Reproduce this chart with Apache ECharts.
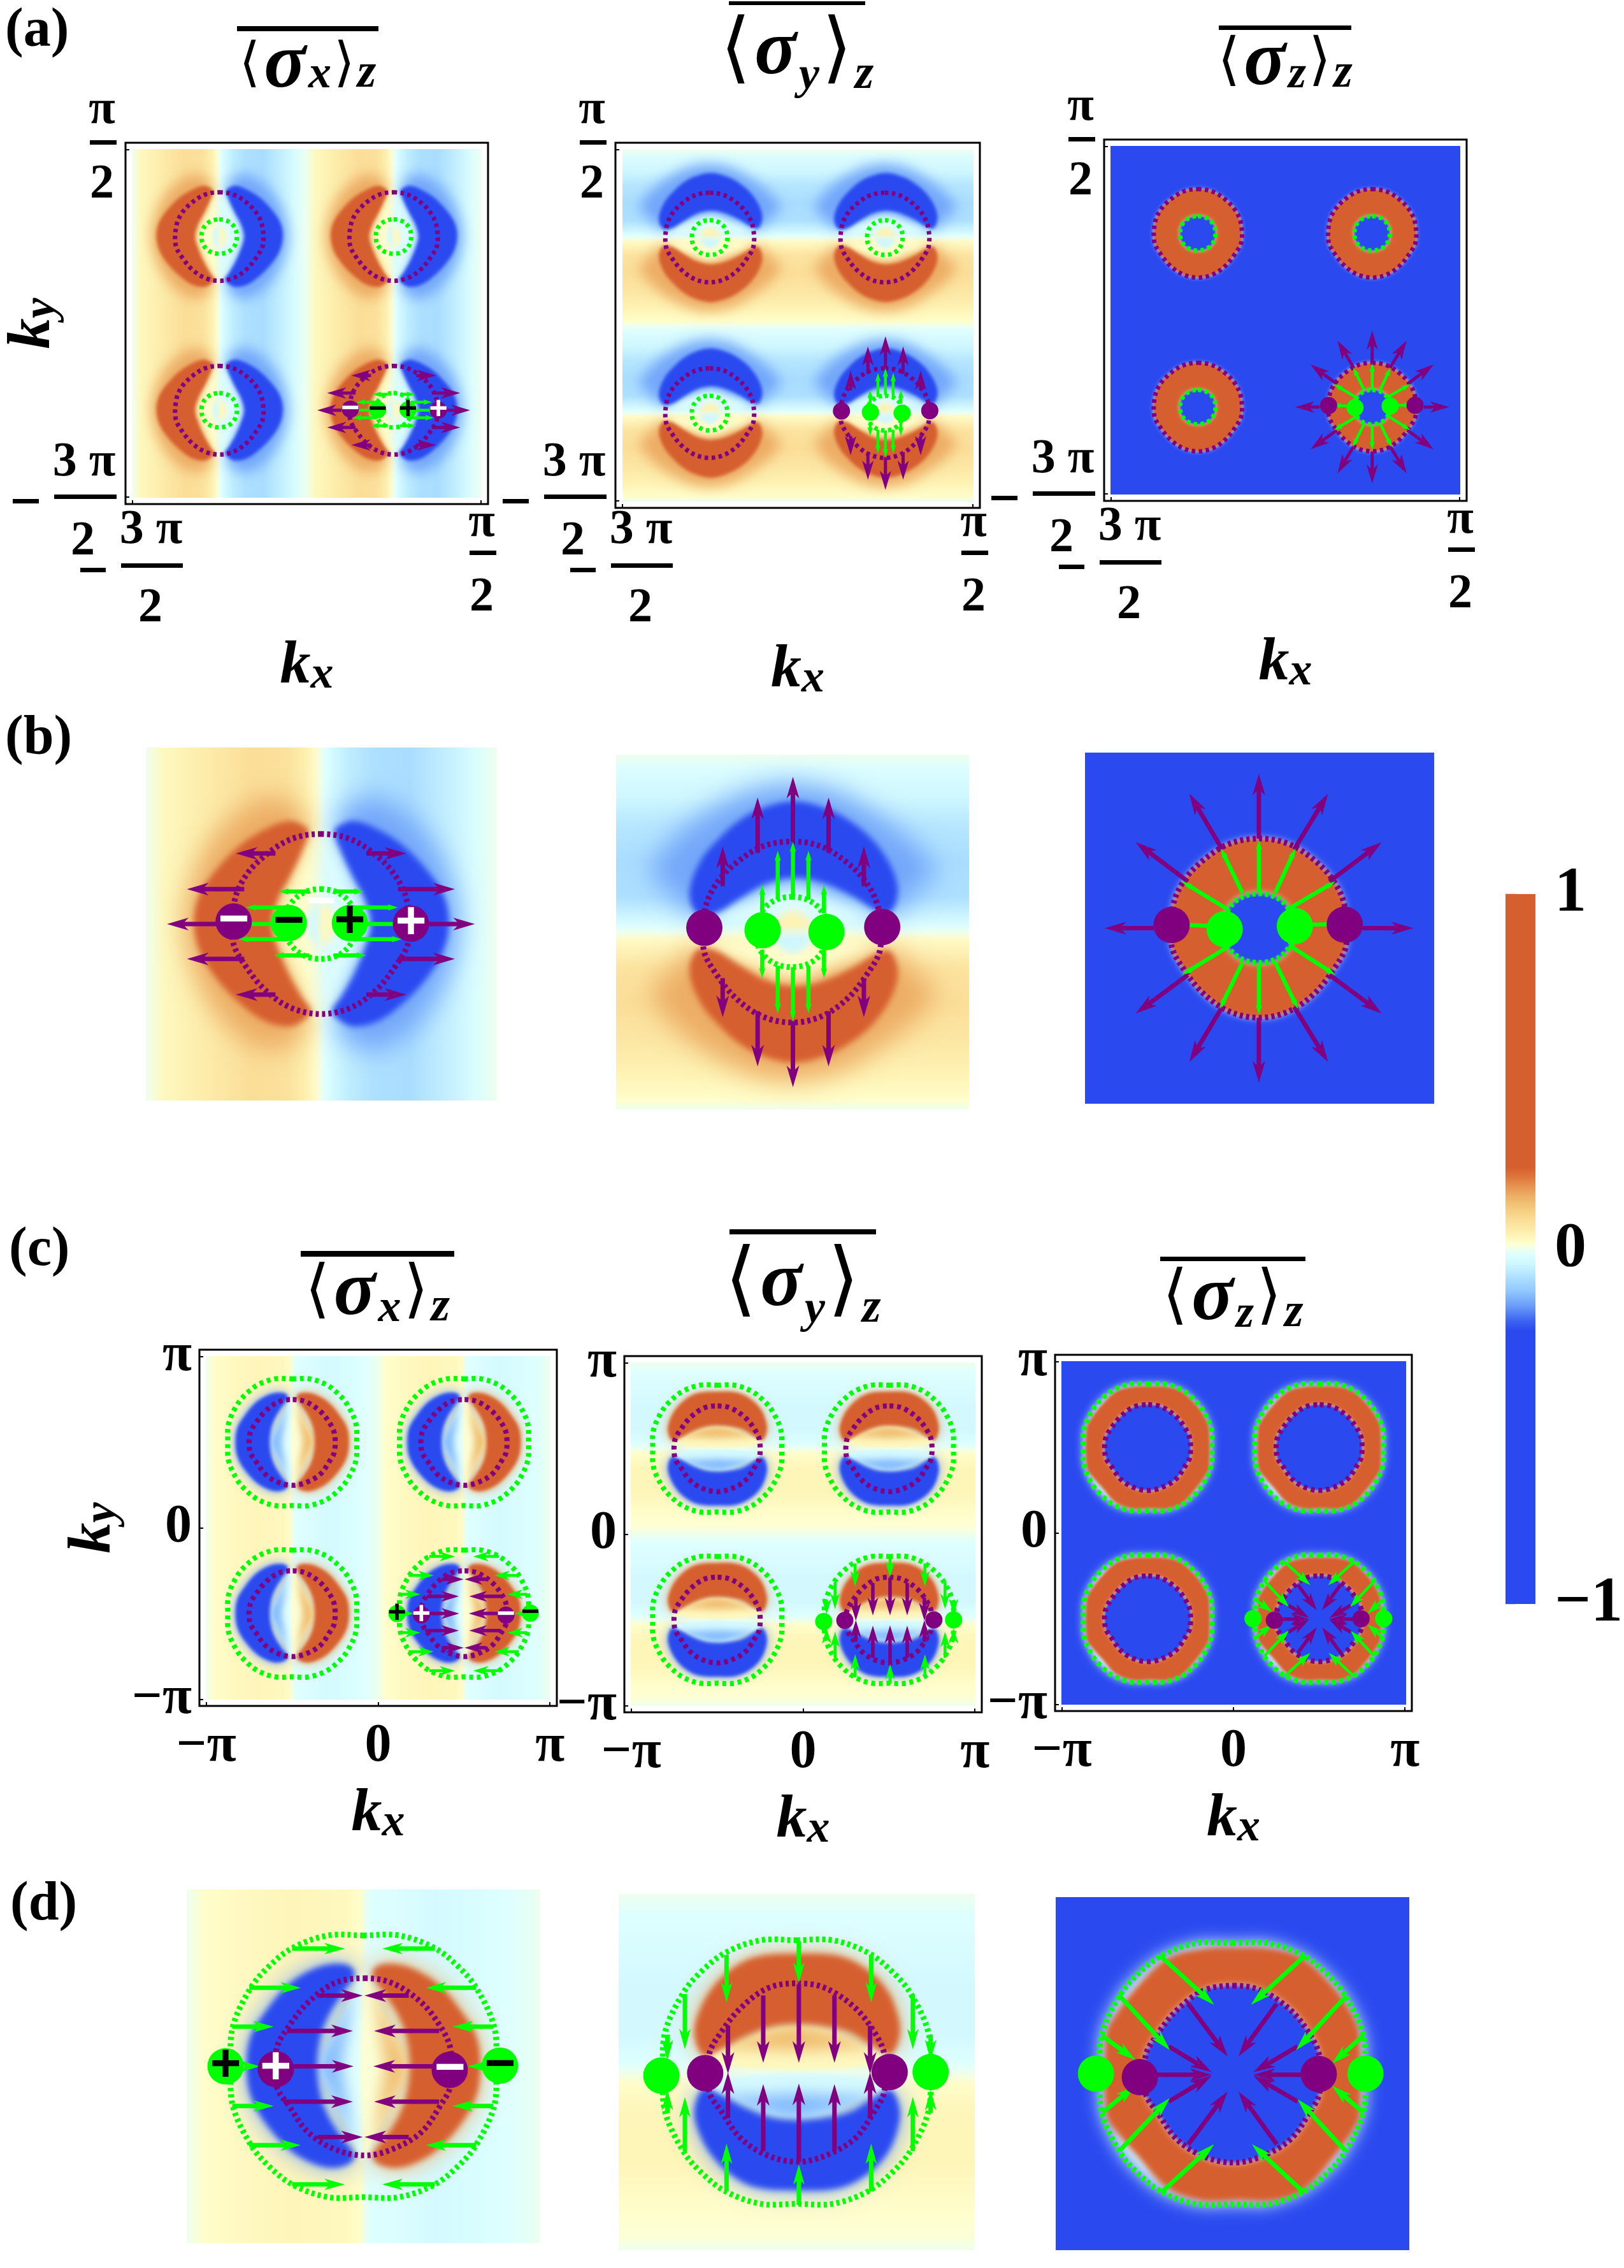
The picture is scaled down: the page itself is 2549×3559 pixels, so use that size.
<!DOCTYPE html>
<html>
<head>
<meta charset="utf-8">
<script src="https://cdn.jsdelivr.net/npm/echarts@6/dist/echarts.min.js"></script>
<style>
html, body { margin: 0; padding: 0; background: #fff; }
#chart { width: 2549px; height: 3559px; }
</style>
</head>
<body>
<div id="chart"></div>
<script>
// colour scale of the bar on the right
const rampValues = [-1, -0.23, -0.2, -0.16, -0.12, -0.08, -0.04, -0.015, 0, 0.015, 0.04, 0.08, 0.12, 0.16, 0.2, 0.23, 1];
const rampColors = ['#2A4AF0', '#2A4AF0', '#3F66F2', '#6A9DF8', '#8FC6FF', '#ADE0FF', '#CFF7FF', '#DEFFFF', '#EEFFEE', '#FFFFD0', '#FEF3B4', '#FBDE98', '#F2C878', '#EBA45E', '#DE7A3D', '#D65F2F', '#D65F2F'];

// all positions are in k / pi * 100, relative to the centre of one Dirac cone cell
// pale stripes behind the lobes
const bandPosAX = [-50, -45, -35, -20, -10, -5, -2, 0, 1, 4, 8, 15, 25, 35, 43, 50];
const bandValAX = [0, 0.03, 0.05, 0.08, 0.075, 0.05, 0.025, 0, -0.015, -0.04, -0.06, -0.08, -0.085, -0.055, -0.025, 0];
const bandPosAY = [50, 46, 38, 30, 20, 10, 3, 1, 0, -2, -10, -20, -30, -40, -47, -50];
const bandValAY = [0, -0.02, -0.04, -0.07, -0.085, -0.08, -0.03, -0.01, 0, 0.025, 0.07, 0.08, 0.065, 0.04, 0.02, 0];
const bandPosCX = [-50, -45, -35, -20, -5, -1, 1, 3, 10, 20, 30, 40, 46, 50];
const bandValCX = [0, 0.02, 0.028, 0.035, 0.03, 0.02, -0.01, -0.016, -0.02, -0.032, -0.025, -0.016, -0.008, 0];
const bandPosCY = [50, 44, 38, 25, 10, 3, 0, -3, -12, -25, -38, -46, -50];
const bandValCY = [0, -0.016, -0.02, -0.034, -0.034, -0.016, 0, 0.02, 0.036, 0.036, 0.02, 0.012, 0];
const bandPosFlat = [-50, 50];
const bandValFlat = [-1, -1];

// saturated lobes, halos round them and the pale centre
const lobeCoreAX = [[-3.7, 26.4], [-5.5, 28.1], [-9.1, 29.2], [-14.9, 27.4], [-22.8, 22.6], [-30, 15.3], [-34.7, 8.3], [-36.3, 0.7], [-34.7, -7.6], [-30, -15.3], [-23.5, -22.2], [-16.3, -27.4], [-9.1, -29], [-4.8, -27], [-3, -24.6], [-5.5, -20.8], [-9.1, -14.6], [-12.4, -6.9], [-14.2, 0], [-12.4, 7], [-9.1, 13.2], [-5.5, 20.8]];
const lobeHaloAX = [[-4.8, 30], [-14, 36], [-25, 30.5], [-33.6, 20], [-38, 8.3], [-39, 0], [-38, -8], [-33.6, -19.4], [-25, -30.5], [-14.2, -35.8], [-4.8, -30], [-9, -12], [-14, 0], [-9, 12]];
const lensAX = [[0, 25], [-5, 18], [-10, 8], [-12, 0], [-10, -8], [-5, -18], [0, -25]];
const discAX = [[0, 6], [-3, 4], [-4, 0], [-3, -4], [0, -6]];
const lobeCoreAY = [[-26.9, 5], [-29.2, 10.9], [-26.2, 19.8], [-20.5, 26.7], [-14.8, 31.6], [-9, 34.7], [0.3, 36.8], [9.6, 34.7], [16.8, 30.9], [23.2, 25.4], [28.2, 17.8], [29.8, 10.9], [27.5, 5.3], [23.9, 6], [16.8, 10.2], [8.2, 14], [0.3, 15.3], [-7.6, 13.6], [-14.8, 9.5], [-21.9, 5.2]];
const lobeHaloAY = [[-40.2, 16.4], [-33.4, 26.7], [-23.4, 34.3], [-11.9, 39.9], [0.3, 41.9], [13.2, 39.2], [23.9, 33], [34.7, 24.7], [40.4, 16.4], [34.7, 11.5], [28.9, 5.3], [16, 8], [0, 10], [-16, 8], [-29, 5.3], [-34.7, 11.5]];
const lensAY = [[-22, 3], [-10, 10], [0, 13], [10, 10], [22, 3], [0, 1]];
const discAY = [[-6, 1], [-4, 4], [0, 6], [4, 4], [6, 1]];
const lobeCoreCX = [[-2.5, 26], [-4.2, 28.5], [-9.8, 28.8], [-15.3, 27], [-21.6, 22.8], [-27.8, 15.3], [-31.9, 8.4], [-33, 0], [-31.9, -8.2], [-27.8, -15.9], [-20.9, -23.5], [-14.6, -27.3], [-9.1, -28.7], [-4.2, -27.6], [-2.5, -25.2], [-6.3, -20], [-9.8, -14.5], [-12.2, -8.2], [-13.2, 0], [-12.2, 8.4], [-9.8, 14.6], [-6.3, 20.2]];
const lensWhiteCX = [[0, 26], [-4, 18], [-8, 10], [-12, 0], [-8, -10], [-4, -18], [0, -26]];
const lensCX = [[-3, 24], [-6, 16], [-9, 9], [-13, 0], [-9, -9], [-6, -16], [-3, -24], [-4.5, -10], [-6, 0], [-4.5, 10]];
const lobeCoreCY = [[-26.2, 4.7], [-28.6, 9.8], [-28, 15.3], [-24.2, 22.9], [-18, 29.1], [-11.1, 32.4], [0.6, 33.2], [11.6, 32.6], [19.2, 29.1], [25.4, 22.9], [28.5, 15.3], [28.8, 9.8], [26.4, 5], [22, 7], [15.1, 11.2], [8.2, 12.9], [0.6, 13.6], [-7, 12.9], [-15.2, 9.8], [-21.4, 6.4]];
const lensWhiteCY = [[-26, 3], [-15, 9], [-7, 12], [0.6, 13], [8, 12], [15, 9], [26, 3], [0, 0.5]];
const lensCY = [[-22, 7], [-10, 11], [0, 13], [10, 11], [22, 7], [10, 6.5], [0, 6], [-10, 6.5]];
const donutOuterCZ = [[-8.7, 35.4], [1.7, 35.8], [11.4, 35.4], [19.8, 32.7], [28.8, 24.3], [34.3, 16], [36, 10.5], [36, -11.7], [34.3, -15.9], [28.8, -23.5], [19.8, -33.2], [11.4, -36], [1.7, -35.9], [-8.7, -36], [-18.4, -32.5], [-26.7, -23.5], [-32.2, -17.3], [-35.7, -11.7], [-35.9, 10.5], [-33.6, 16], [-26.7, 25], [-18.4, 32.7]];

// dotted contours
const ringPurpleA = [[-0.2, 25.5], [8.1, 24.1], [15.4, 19.6], [21.1, 13.6], [24.4, 6.3], [24.8, -4.9], [21.1, -11.9], [15.4, -18.9], [8.1, -23.8], [-0.2, -25.5], [-8.5, -23.8], [-15.8, -18.9], [-21.6, -11.9], [-25.2, -4.9], [-24.8, 6.3], [-21.6, 13.6], [-15.8, 19.6], [-8.5, 24.1]];
const ringGreenA = [[-0.2, 9.9], [5.2, 8.6], [8.8, 4.9], [9.9, 0], [8.8, -4.9], [5.2, -8.6], [-0.2, -9.9], [-5.6, -8.6], [-9.3, -4.9], [-10.4, 0], [-9.3, 4.9], [-5.6, 8.6]];
const ringPurpleC = [[0.3, 24.9], [8, 23.6], [16.3, 18.1], [21.8, 11.2], [24.6, 4.9], [24.6, -5.5], [21.8, -11], [16.3, -18.7], [8, -23.5], [0.3, -25.2], [-8, -23.5], [-15.6, -18.7], [-21.2, -11], [-24.6, -5.5], [-24.6, 4.9], [-21.2, 11.2], [-15.6, 18.1], [-8, 23.6]];
const ringGreenC = [[0, 37], [10, 37], [20, 33.5], [27, 28], [32, 22], [37, 11], [37.5, 0], [37, -11], [32, -22], [27, -28], [20, -33.5], [10, -37], [0, -37], [-10, -37], [-20, -33.5], [-27, -28], [-32, -22], [-37, -11], [-37.5, 0], [-37, 11], [-32, 22], [-27, 28], [-20, 33.5], [-10, 37]];

// arrows: from u, from v, to u, to v
const arrowsPurpleAX = [[-30, 0, -44, 0], [-22, 9.9, -38.3, 9.9], [-22, -9.9, -38.3, -9.9], [-13.1, 20, -24.4, 20], [-13.1, -20, -24.4, -20], [30.4, 0, 43.7, 0], [21.8, 9.9, 38, 9.9], [21.8, -9.9, 38, -9.9], [12.8, 20, 24.2, 20], [12.8, -20, 24.2, -20]];
const arrowsGreenAX = [[3.5, 9.2, 12.1, 9.2], [-3.5, 9.2, -12.2, 9.2], [9.6, 4.7, 21.8, 4.7], [-9.6, 4.7, -21.5, 4.7], [9.6, -4.3, 22.9, -4.3], [-9.6, -4.3, -23.7, -4.3], [3.5, -8.9, 12.8, -8.9], [-3.5, -8.9, -13.5, -8.9], [9.6, 0, 25, 0], [-9.6, 0, -25, 0]];
const arrowsPurpleAY = [[0.1, 25.4, 0.1, 43.7], [-9.9, 22.3, -9.9, 37.9], [10.2, 22.3, 10.2, 37.9], [-19.8, 12.9, -19.8, 24.1], [20.2, 12.9, 20.2, 24.1], [0.1, -25.1, 0.1, -43.7], [-9.9, -22.3, -9.9, -37.9], [10.2, -22.3, 10.2, -37.9], [-19.8, -13, -19.8, -24], [20.2, -13, 20.2, -24]];
const arrowsGreenAY = [[0.1, 10.2, 0.1, 25.4], [-4.2, 9.1, -4.2, 22.9], [4.5, 9.1, 4.5, 22.9], [-8.6, 5.3, -8.6, 13.3], [8.9, 5.3, 8.9, 13.3], [0.1, -9.9, 0.1, -25.1], [-4.2, -9.5, -4.2, -23], [4.5, -9.5, 4.5, -23], [-8.6, -5, -8.6, -13], [8.9, -5, 8.9, -13]];
const arrowsPurpleAZ = [[-0.2, 25.5, -0.2, 44], [9.9, 22.4, 19.6, 38.3], [-10.7, 22.4, -20.1, 38.3], [20, 13.3, 35, 24.5], [-20.5, 13.3, -35.5, 24.5], [29.5, 0, 44, 0], [-30.3, 0, -44.4, 0], [20, -13.3, 35, -24.3], [-20.5, -13.3, -35.5, -24.3], [9.9, -22.4, 19.6, -38.1], [-10.7, -22.4, -20.1, -38.1], [-0.2, -25.5, -0.2, -44]];
const arrowsGreenAZ = [[-0.2, 10.5, -0.2, 25.2], [4.5, 10.1, 10.3, 22.7], [-4.9, 10.1, -11.1, 22.7], [8.5, 5.6, 21.7, 13.3], [-8.9, 5.2, -22.2, 13.3], [8.5, -4.9, 21.7, -13.3], [-8.9, -5.2, -22.2, -13.3], [4.5, -9.8, 11, -23], [-4.9, -9.8, -11.4, -23], [-0.2, -10.5, -0.2, -24.8], [14.6, 1, 23, 1.2], [-15, 0.7, -23, 1]];
const arrowsPurpleCX = [[-12.9, 20, -0.2, 20], [12.8, 20, 0.3, 20], [-21.6, 10, -3, 10], [21.4, 10, 3, 10], [-19.8, 0, -2.8, 0], [19.7, 0, 2.8, 0], [-22.6, -10, -3, -10], [21.4, -10, 3, -10], [-12.9, -20, -0.2, -20], [12.8, -20, 0.3, -20]];
const arrowsGreenCX = [[-20.2, 33.3, -5.3, 33.3], [20.2, 33.3, 5.3, 33.3], [-32.3, 22.2, -17.7, 22.2], [31.8, 22.2, 17.6, 22.2], [-37.1, 11.2, -25.4, 11.2], [36.7, 11.2, 25.2, 11.2], [-33.7, 0, -29.2, 0], [33.5, 0, 29.4, 0], [-37.1, -11.2, -25.4, -11.2], [36.7, -11.2, 25.2, -11.2], [-32.3, -22.3, -17.7, -22.3], [31.8, -22.3, 17.6, -22.3], [-20.2, -33.4, -5.3, -33.4], [20.2, -33.4, 5.3, -33.4]];
const arrowsPurpleCY = [[-19.3, 13, -19.3, -0.5], [-9.4, 21.5, -9.4, 2.6], [0.6, 24.6, 0.6, 2.6], [10.6, 21.5, 10.6, 2.6], [20.6, 13, 20.6, -0.5], [-19.3, -12.9, -19.3, -0.1], [-9.4, -22.2, -9.4, -3.4], [0.6, -25.3, 0.6, -3.2], [10.6, -22.2, 10.6, -3.4], [20.6, -12.9, 20.6, -0.1]];
const arrowsGreenCY = [[-36.3, 10.5, -36.3, 3.3], [-31.4, 21.9, -31.4, 6.4], [-19.7, 32.9, -19.7, 19.5], [0.6, 36.7, 0.6, 25], [20.9, 32.9, 20.9, 19.5], [32.6, 21.9, 32.6, 6.4], [37.6, 10.5, 37.6, 3.3], [-36.3, -11.5, -36.3, -5], [-31.4, -22.2, -31.4, -7], [-19.7, -33.5, -19.7, -20.1], [0.6, -37.3, 0.6, -25.9], [20.9, -33.5, 20.9, -20.1], [32.6, -22.2, 32.6, -7], [37.6, -11.5, 37.6, -5]];
const arrowsPurpleCZ = [[-12.5, 19.8, -1.4, 4.9], [12.5, 19.8, 1.7, 4.9], [-18, 7.7, -5.9, 0.4], [18.4, 7.7, 5.9, 0.4], [-21.2, -0.3, -5.9, -0.3], [19.4, -0.3, 5.9, -0.3], [-18, -7.9, -5.9, -0.6], [18.4, -7.9, 5.9, -0.6], [-12.5, -20, -1.4, -5.1], [12.5, -20, 1.7, -5.1]];
const arrowsGreenCZ = [[-20.5, 33.4, -5.2, 19.5], [20.5, 33.4, 5.2, 19.5], [-32.2, 22.3, -17.7, 6.7], [32.1, 21.9, 18, 6.7], [-37, 10.8, -27.4, 3.9], [37, 10.8, 28.1, 2.8], [-36.8, -11, -27.4, -3.4], [37, -11, 28.1, -3.4], [-31.9, -21.8, -17.7, -6.9], [31.9, -21.8, 18.4, -7.2], [-20.1, -33.6, -5.2, -20], [20.1, -33.6, 5.5, -20]];

// Dirac points: u, v, kind, sign
const dotsAX = [[-25, 0.7, 'p', '−'], [25.5, 0.1, 'p', '+'], [-9.3, 0.3, 'g', '−'], [8.1, 0.3, 'g', '+']];
const dotsAY = [[-25, 1.2, 'p', ''], [25.4, 1.4, 'p', ''], [-8.5, 0.5, 'g', ''], [9.6, 0, 'g', '']];
const dotsAZ = [[-25.2, 0.9, 'p', ''], [24.4, 1, 'p', ''], [-10, -0.3, 'g', ''], [10.1, 0.6, 'g', '']];
const dotsCX = [[-39, 0, 'g', '+'], [38.6, 0.2, 'g', '−'], [-24.8, -0.8, 'p', '+'], [24.4, -1, 'p', '−']];
const dotsCY = [[-38, -1, 'g', ''], [37.6, 0, 'g', ''], [-25.7, -0.3, 'p', ''], [26.1, 0, 'p', '']];
const dotsCZ = [[-38.6, 0, 'g', ''], [37.6, 0, 'g', ''], [-26.2, -1, 'p', ''], [24.4, -0.1, 'p', '']];

const tickLabelsC = { '-100': '−π', '0': '0', '100': 'π' };
const colorbarLabels = { '1': '1', '0': '0', '-1': '−1' };
const panelLetters = ['(a)', '(b)', '(c)', '(d)'];

const PURPLE = '#800080';
const GREEN = '#00FF00';
const SERIF = '"Liberation Serif", "DejaVu Serif", serif';
const OFFSCREEN = 8000; // blobs are painted off canvas, only their blurred shadow shows

function hexToRgb(hex) {
    return [1, 3, 5].map(i => parseInt(hex.substr(i, 2), 16));
}

function rampColor(val) {
    for (let i = 1; i < rampValues.length; i++) {
        if (val <= rampValues[i]) {
            const t = (val - rampValues[i - 1]) / (rampValues[i] - rampValues[i - 1]);
            const a = hexToRgb(rampColors[i - 1]);
            const b = hexToRgb(rampColors[i]);
            return 'rgb(' + a.map((c, k) => Math.round(c + (b[k] - c) * t)).join(',') + ')';
        }
    }
    return rampColors[rampColors.length - 1];
}

const mirrorX = pts => pts.map(p => [-p[0], p[1]]);
const mirrorY = pts => pts.map(p => [p[0], -p[1]]);

// every lobe comes with its mirror image of opposite sign
const lobeLayers = (mirror, sign, list) => {
    const out = [];
    list.forEach(l => {
        out.push({ pts: l[0], val: l[1] * sign, blur: l[2] });
        out.push({ pts: mirror(l[0]), val: -l[1] * sign, blur: l[2] });
    });
    return out;
};

const fields = {
    ax: { dir: 'x', pos: bandPosAX, val: bandValAX, rings: [ringPurpleA, ringGreenA], purple: arrowsPurpleAX, green: arrowsGreenAX, dots: dotsAX,
        layers: lobeLayers(mirrorX, 1, [[lobeHaloAX, 0.15, 40], [lensAX, 0.02, 24], [lobeCoreAX, 1, 10], [discAX, -0.03, 12]]) },
    ay: { dir: 'y', pos: bandPosAY, val: bandValAY, rings: [ringPurpleA, ringGreenA], purple: arrowsPurpleAY, green: arrowsGreenAY, dots: dotsAY,
        layers: lobeLayers(mirrorY, -1, [[lobeHaloAY, 0.15, 40], [lensAY, 0.02, 24], [lobeCoreAY, 1, 10], [discAY, -0.04, 12]]) },
    az: { dir: 'x', pos: bandPosFlat, val: bandValFlat, rings: [ringPurpleA, ringGreenA], purple: arrowsPurpleAZ, green: arrowsGreenAZ, dots: dotsAZ, layers: [
        { pts: ringPurpleA, val: 0, blur: 12 }, { pts: ringPurpleA, val: 1, blur: 5 },
        { pts: ringGreenA, val: 0, blur: 12 }, { pts: ringGreenA, val: -1, blur: 5 }
    ] },
    cx: { dir: 'x', pos: bandPosCX, val: bandValCX, rings: [ringPurpleC, ringGreenC], purple: arrowsPurpleCX, green: arrowsGreenCX, dots: dotsCX,
        layers: lobeLayers(mirrorX, -1, [[lobeCoreCX, 0.15, 40], [lensWhiteCX, 0.012, 6], [lensCX, 0.13, 22], [lobeCoreCX, 1, 10]]) },
    cy: { dir: 'y', pos: bandPosCY, val: bandValCY, rings: [ringPurpleC, ringGreenC], purple: arrowsPurpleCY, green: arrowsGreenCY, dots: dotsCY,
        layers: lobeLayers(mirrorY, 1, [[lobeCoreCY, 0.15, 40], [lensWhiteCY, 0.03, 6], [lensCY, 0.13, 22], [lobeCoreCY, 1, 10]]) },
    cz: { dir: 'x', pos: bandPosFlat, val: bandValFlat, rings: [ringPurpleC, ringGreenC], purple: arrowsPurpleCZ, green: arrowsGreenCZ, dots: dotsCZ, layers: [
        { pts: ringGreenC, val: -0.02, blur: 26 }, { pts: donutOuterCZ, val: 1, blur: 8 },
        { pts: ringPurpleC, val: 0, blur: 12 }, { pts: ringPurpleC, val: -1, blur: 5 }
    ] }
};

const looks = {
    a: { range: [-154, 54], cells: [[-100, 0], [0, 0], [-100, -100], [0, -100]], marked: [0, -100], blur: 0.5, ring: 7, dash: [5.5, 5.5], dot: 27, sign: 50, purple: [5, 30, 18], green: [4.5, 14, 9] },
    b: { range: [-50, 50], cells: [[0, 0]], marked: [0, 0], blur: 1, ring: 9, dash: [5, 5], dot: 57, sign: 84, purple: [7, 34, 20], green: [6.5, 16, 10] },
    c: { range: [-104, 104], cells: [[-50, 50], [50, 50], [-50, -50], [50, -50]], marked: [50, -50], blur: 0.5, ring: 8, dash: [6, 6], dot: 27, sign: 50, purple: [5.5, 28, 17], green: [4.5, 24, 15] },
    d: { range: [-50, 50], cells: [[0, 0]], marked: [0, 0], blur: 1, ring: 9, dash: [5, 5], dot: 57, sign: 84, purple: [7, 34, 20], green: [7, 32, 18] }
};

// frame: left, top, right, bottom in page pixels
const panels = [
    { look: 'a', field: 'ax', frame: [197, 224, 766, 791], kx: true, ky: true },
    { look: 'a', field: 'ay', frame: [966, 224, 1538, 797], kx: true },
    { look: 'a', field: 'az', frame: [1733, 219, 2302, 786], kx: true },
    { look: 'b', field: 'ax', frame: [229, 1173, 780, 1727] },
    { look: 'b', field: 'ay', frame: [967, 1184, 1521, 1741] },
    { look: 'b', field: 'az', frame: [1703, 1181, 2251, 1732] },
    { look: 'c', field: 'cx', frame: [313, 2118, 874, 2677], kx: true, ky: true },
    { look: 'c', field: 'cy', frame: [980, 2128, 1541, 2687], kx: true },
    { look: 'c', field: 'cz', frame: [1656, 2126, 2216, 2685], kx: true },
    { look: 'd', field: 'cx', frame: [293, 2965, 848, 3520] },
    { look: 'd', field: 'cy', frame: [971, 2972, 1530, 3531] },
    { look: 'd', field: 'cz', frame: [1657, 2977, 2212, 3531] }
];

function bandGradient(f) {
    const stops = f.pos.map((p, i) => ({
        offset: f.dir === 'x' ? (p + 50) / 100 : (50 - p) / 100,
        color: rampColor(f.val[i])
    }));
    return f.dir === 'x'
        ? new echarts.graphic.LinearGradient(0, 0, 1, 0, stops)
        : new echarts.graphic.LinearGradient(0, 0, 0, 1, stops);
}

function panelItems(panel) {
    const look = looks[panel.look];
    const f = fields[panel.field];
    const items = [];
    look.cells.forEach(c => items.push({ kind: 'band', c: c, fill: bandGradient(f) }));
    look.cells.forEach(c => f.layers.forEach(l => items.push({
        kind: 'blob', c: c, pts: l.pts, color: rampColor(l.val), blur: l.blur * look.blur
    })));
    look.cells.forEach(c => {
        items.push({ kind: 'ring', c: c, pts: f.rings[0], color: PURPLE, width: look.ring, dash: look.dash });
        items.push({ kind: 'ring', c: c, pts: f.rings[1], color: GREEN, width: look.ring, dash: look.dash });
    });
    f.purple.forEach(a => items.push({ kind: 'arrow', c: look.marked, a: a, color: PURPLE, style: look.purple }));
    f.green.forEach(a => items.push({ kind: 'arrow', c: look.marked, a: a, color: GREEN, style: look.green }));
    return items;
}

const makeRender = items => (params, api) => {
    const it = items[params.dataIndex];
    const at = (u, v) => api.coord([it.c[0] + u, it.c[1] + v]);
    if (it.kind === 'band') {
        const a = at(-50, 50);
        const b = at(50, -50);
        return {
            type: 'rect',
            shape: { x: Math.floor(a[0]), y: Math.floor(a[1]), width: Math.ceil(b[0] - a[0]) + 1, height: Math.ceil(b[1] - a[1]) + 1 },
            style: { fill: it.fill, stroke: null }
        };
    }
    if (it.kind === 'blob') {
        const pts = it.pts.map(p => {
            const q = at(p[0], p[1]);
            return [q[0] + OFFSCREEN, q[1]];
        });
        return {
            type: 'polygon',
            shape: { points: pts, smooth: 0.35 },
            style: { fill: it.color, shadowColor: it.color, shadowBlur: it.blur, shadowOffsetX: -OFFSCREEN }
        };
    }
    if (it.kind === 'ring') {
        return {
            type: 'polygon',
            shape: { points: it.pts.map(p => at(p[0], p[1])), smooth: 0.35 },
            style: { fill: 'none', stroke: it.color, lineWidth: it.width, lineDash: it.dash }
        };
    }
    const p0 = at(it.a[0], it.a[1]);
    const p1 = at(it.a[2], it.a[3]);
    const len = Math.hypot(p1[0] - p0[0], p1[1] - p0[1]) || 1;
    const dx = (p1[0] - p0[0]) / len;
    const dy = (p1[1] - p0[1]) / len;
    const w = it.style[0];
    const hl = it.style[1];
    const hw = it.style[2] / 2;
    const back = [p1[0] - dx * hl, p1[1] - dy * hl];
    const notch = [p1[0] - dx * hl * 0.72, p1[1] - dy * hl * 0.72];
    return {
        type: 'group',
        children: [
            {
                type: 'line',
                shape: { x1: p0[0], y1: p0[1], x2: notch[0], y2: notch[1] },
                style: { stroke: it.color, lineWidth: w }
            },
            {
                type: 'polygon',
                shape: { points: [p1, [back[0] - dy * hw, back[1] + dx * hw], notch, [back[0] + dy * hw, back[1] - dx * hw]] },
                style: { fill: it.color }
            }
        ]
    };
};

const kName = sub => '{k|k}{s|' + sub + '}';
const kRich = {
    k: { color: '#000', fontFamily: SERIF, fontStyle: 'italic', fontWeight: 'bold', fontSize: 96, lineHeight: 100, verticalAlign: 'middle' },
    s: { color: '#000', fontFamily: SERIF, fontStyle: 'italic', fontWeight: 'bold', fontSize: 72, lineHeight: 60, verticalAlign: 'bottom' }
};

const grids = [];
const xAxes = [];
const yAxes = [];
const series = [];

panels.forEach((panel, idx) => {
    const look = looks[panel.look];
    const f = panel.frame;
    const framed = panel.look === 'a' || panel.look === 'c';
    grids.push({
        left: f[0], top: f[1], width: f[2] - f[0], height: f[3] - f[1],
        outerBoundsMode: 'none',
        show: framed, borderColor: '#000', borderWidth: 3, backgroundColor: 'transparent'
    });
    const tickVals = panel.look === 'a' ? [-150, 50] : [-100, 0, 100];
    const axisBase = {
        type: 'value', gridIndex: idx, min: look.range[0], max: look.range[1],
        show: framed, axisLine: { show: false, onZero: false }, splitLine: { show: false },
        axisTick: { show: framed, inside: true, length: 6, customValues: tickVals, lineStyle: { color: '#000', width: 2 } },
        axisLabel: {
            show: panel.look === 'c', customValues: tickVals,
            formatter: v => tickLabelsC[String(v)],
            fontFamily: SERIF, fontWeight: 'bold', fontSize: 84, color: '#000'
        }
    };
    const xAxis = Object.assign({}, axisBase);
    xAxis.axisLabel = Object.assign({}, axisBase.axisLabel, { margin: 22 });
    if (panel.kx) {
        xAxis.name = kName('x');
        xAxis.nameLocation = 'middle';
        xAxis.nameGap = panel.look === 'a' ? 205 : 120;
        xAxis.nameTextStyle = { rich: kRich };
    }
    const yAxis = Object.assign({}, axisBase);
    yAxis.axisLabel = Object.assign({}, axisBase.axisLabel, { margin: 12 });
    if (panel.ky) {
        yAxis.name = kName('y');
        yAxis.nameLocation = 'middle';
        yAxis.nameGap = panel.look === 'a' ? 95 : 116;
        yAxis.nameTextStyle = { rich: kRich };
    }
    xAxes.push(xAxis);
    yAxes.push(yAxis);

    const items = panelItems(panel);
    series.push({
        type: 'custom',
        xAxisIndex: idx,
        yAxisIndex: idx,
        clip: true,
        silent: true,
        animation: false,
        renderItem: makeRender(items),
        data: items.map(it => [it.c[0], it.c[1]]),
        z: 2
    });

    const dots = fields[panel.field].dots.map(d => ({
        value: [look.marked[0] + d[0], look.marked[1] + d[1]],
        itemStyle: { color: d[2] === 'p' ? PURPLE : GREEN, opacity: 1 },
        label: {
            show: d[3] !== '',
            formatter: d[3],
            color: d[2] === 'p' ? '#fff' : '#000'
        }
    }));
    if (panel.look === 'b' && panel.field === 'ax') {
        // stray white bar above the inner contour
        dots.push({ value: [0, 6.7], symbol: 'rect', symbolSize: [40, 9], itemStyle: { color: '#fff', opacity: 1 }, label: { show: false } });
    }
    series.push({
        type: 'scatter',
        xAxisIndex: idx,
        yAxisIndex: idx,
        silent: true,
        animation: false,
        symbolSize: look.dot,
        data: dots,
        label: { position: 'inside', fontFamily: '"Liberation Sans", sans-serif', fontWeight: 'bold', fontSize: look.sign },
        z: 3
    });
});

// colour bar
const barGrid = grids.length;
grids.push({ left: 2363, top: 1403, width: 47, height: 1114, outerBoundsMode: 'none', show: false });
xAxes.push({ type: 'value', gridIndex: barGrid, min: 0, max: 1, show: false });
yAxes.push({
    type: 'value', gridIndex: barGrid, min: -1, max: 1, position: 'right', interval: 0.5,
    axisLine: { show: false }, splitLine: { show: false },
    axisTick: { length: 16, lineStyle: { color: '#ddd', width: 2 } },
    minorTick: { show: true, splitNumber: 5, length: 10, lineStyle: { color: '#e4e4e4', width: 2 } },
    axisLabel: {
        customValues: [-1, 0, 1], margin: 30,
        formatter: v => colorbarLabels[String(v)],
        fontFamily: SERIF, fontWeight: 'bold', fontSize: 100, color: '#000'
    }
});
series.push({
    type: 'custom',
    xAxisIndex: barGrid,
    yAxisIndex: barGrid,
    silent: true,
    animation: false,
    renderItem: (params, api) => {
        const a = api.coord([0, 1]);
        const b = api.coord([1, -1]);
        const stops = rampValues.map((v, i) => ({ offset: (1 - v) / 2, color: rampColors[i] })).reverse();
        return {
            type: 'rect',
            shape: { x: a[0], y: a[1], width: b[0] - a[0], height: b[1] - a[1] },
            style: { fill: new echarts.graphic.LinearGradient(0, 0, 0, 1, stops) }
        };
    },
    data: [[0, 0]]
});

// titles: bar x1, bar x2, bar y1, bar y2, text centre y, subscript, bracket size
const titles = [
    [372, 594, 41, 49, 104, 'x', 84],
    [1144, 1358, 2, 8, 83, 'y', 122],
    [1913, 2121, 40, 47, 100, 'z', 90],
    [472, 713, 1963, 1972, 2030, 'x', 100],
    [1145, 1375, 1929, 1937, 2016, 'y', 128],
    [1821, 2049, 1972, 1979, 2038, 'z', 102]
];

const graphics = [];
const txt = (text, x, y, size, extra) => graphics.push({
    type: 'text', x: x, y: y,
    style: Object.assign({ text: text, font: 'bold ' + size + 'px ' + SERIF, fill: '#000', align: 'center', verticalAlign: 'middle' }, extra || {})
});
const bar = (x1, x2, y, h) => graphics.push({
    type: 'rect', shape: { x: x1, y: y, width: x2 - x1, height: h }, style: { fill: '#000' }
});

titles.forEach(t => {
    bar(t[0], t[1], t[2], t[3] - t[2]);
    txt('{b|⟨}{s|σ}{i|' + t[5] + '}{b|⟩}{z|z}', (t[0] + t[1]) / 2, t[4], 100, {
        rich: {
            b: { font: t[6] + 'px "DejaVu Serif", serif', lineHeight: t[6] * 1.2, verticalAlign: 'middle' },
            s: { font: 'italic bold 122px ' + SERIF, lineHeight: t[6], verticalAlign: 'middle', padding: [0, 2, 0, 6] },
            i: { font: 'italic bold 72px ' + SERIF, lineHeight: 50, verticalAlign: 'bottom', padding: [0, 4, 0, 2] },
            z: { font: 'italic bold 76px ' + SERIF, lineHeight: 50, verticalAlign: 'bottom', padding: [0, 0, 0, 4] }
        }
    });
});

// stacked fractions beside the (a) frames, offsets from the frame corner
const fracLabels = [
    { num: 'π', numAt: [-37, -51], bar: [-56, -14, -4], den: [-37, 66] },
    { num: '3 π', numAt: [-65, 502], bar: [-112, -14, 552], den: [-67, 626], minus: [-177, -136, 559] },
    { num: '3 π', numAt: [40, 608], bar: [-7, 90, 660], den: [39, 731], minus: [-71, -31, 667] },
    { num: 'π', numAt: [559, 597], bar: [540, 582, 640], den: [559, 714] }
];
[panels[0], panels[1], panels[2]].forEach(p => {
    const fx = p.frame[0];
    const fy = p.frame[1];
    const kx = (p.frame[2] - p.frame[0]) / 569;
    fracLabels.forEach(l => {
        const ox = v => fx + (v > 300 ? v * kx : v);
        txt(l.num, ox(l.numAt[0]), fy + l.numAt[1], 76);
        bar(ox(l.bar[0]), ox(l.bar[1]), fy + l.bar[2], 7);
        txt('2', ox(l.den[0]), fy + l.den[1], 76);
        if (l.minus) {
            bar(ox(l.minus[0]), ox(l.minus[1]), fy + l.minus[2], 7);
        }
    });
});

[[8, 50], [8, 1160], [14, 1963], [16, 2990]].forEach((p, i) => {
    txt(panelLetters[i], p[0], p[1], 86, { align: 'left' });
});

const chart = echarts.init(document.getElementById('chart'), null, { renderer: 'canvas' });
chart.setOption({
    animation: false,
    backgroundColor: '#fff',
    grid: grids,
    xAxis: xAxes,
    yAxis: yAxes,
    series: series,
    graphic: { elements: graphics }
});
</script>
</body>
</html>
